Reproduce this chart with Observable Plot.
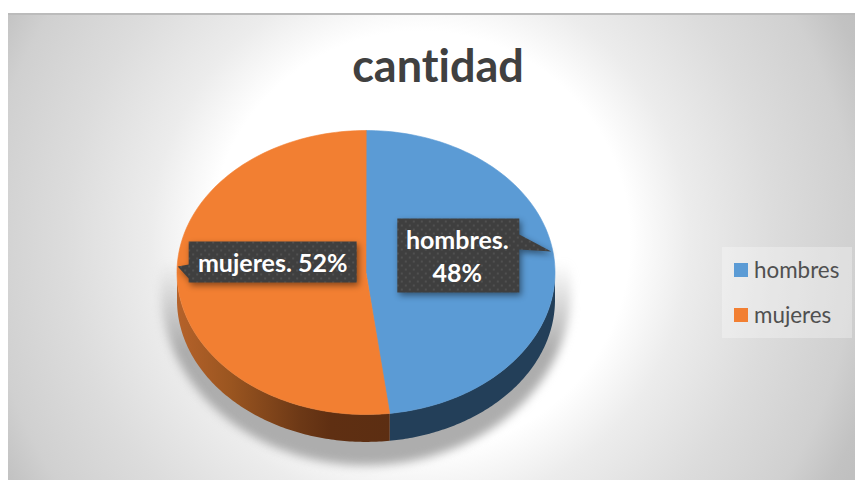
<!DOCTYPE html>
<html><head><meta charset="utf-8">
<script src="https://cdn.jsdelivr.net/npm/d3@7"></script>
<script src="https://cdn.jsdelivr.net/npm/@observablehq/plot@0.6"></script>
<style>
html,body{margin:0;padding:0;background:#fff;overflow:hidden}
#page{position:relative;width:855px;height:480px;overflow:hidden;font-family:Lato,sans-serif;color:#404040;font-variant-ligatures:none}
#frame{position:absolute;left:8px;top:13px;right:0;bottom:0;border-top:2px solid #bbb;box-sizing:border-box;
 background:radial-gradient(circle 490px at 412px 226px,#fff 0px,#fff 210px,#ececec 270px,#dcdcdc 355px,#d0d0d0 435px,#c2c2c2 475px,#c0c0c0 490px)}
#title{position:absolute;left:8px;width:860px;top:36px;text-align:center;font-weight:700;font-size:45px;line-height:58px}
#chart{position:absolute;left:0;top:0}
#legend{position:absolute;left:722px;top:247px;width:130px;height:91px;background:rgba(255,255,255,.3);color:#505050}
.item{position:absolute;left:12px;font-size:22.4px;line-height:24px;white-space:nowrap}
.item i{position:absolute;left:0;top:5px;width:14px;height:14px}
.item span{position:absolute;left:20px;top:0}
</style></head><body>
<div id="page"><div id="frame"></div><div id="title"></div><div id="chart"></div><div id="legend"></div></div>
<script>
const chartTitle = "cantidad";
const categories = ["hombres", "mujeres"];
const shares = [48, 52];
const colors = ["#5B9BD5", "#F27F32"];

// Slice angles (clockwise from 12 o'clock) from the shares
let acc = 0;
const slices = categories.map((name, i) => {
  const a0 = acc / 100 * 2 * Math.PI; acc += shares[i];
  return {name, share: shares[i], a0, a1: acc / 100 * 2 * Math.PI};
});
const depth = 0.193;   // wall height, in pie radii on the y scale
const arc = (a0, a1, dy = 0, n = 120) =>
  d3.range(n + 1).map(k => {
    const a = a0 + (a1 - a0) * k / n;
    return {x: Math.sin(a), y: Math.cos(a) - dy};
  });

const faces = slices.flatMap(s => [{x: 0, y: 0}, ...arc(s.a0, s.a1)].map(p => ({...p, name: s.name})));
const shadow = arc(0, 2 * Math.PI).map(p => ({x: p.x * 1.085, y: p.y * 1.232 - 0.127}));

// Visible wall of a slice between two angles: lower rim then upper rim reversed
const wall = (a0, a1) => [...arc(a0, a1, depth), ...arc(a0, a1, 0).reverse()];
const blueWall = wall(Math.PI / 2, slices[0].a1);
const orangeWall = wall(slices[1].a0, 1.5 * Math.PI);

const labels = slices.map(s => {
  const mid = (s.a0 + s.a1) / 2;
  return {x: 0.5 * Math.sin(mid), y: 0.5 * Math.cos(mid), name: s.name, share: s.share};
});
const labelText = d => d.name === "hombres" ? `${d.name}.\n${d.share}%` : `${d.name}. ${d.share}%`;

function defsMark() {
  const ns = "http://www.w3.org/2000/svg";
  const d = document.createElementNS(ns, "defs");
  d.innerHTML = `
  <linearGradient id="wallO" gradientUnits="userSpaceOnUse" x1="177" x2="390" y1="0" y2="0">
    <stop offset="0" stop-color="#b5622a"/><stop offset=".25" stop-color="#9a5520"/><stop offset=".58" stop-color="#6c3816"/><stop offset=".72" stop-color="#5f2f12"/><stop offset="1" stop-color="#5c2e12"/>
  </linearGradient>
  <linearGradient id="shade" gradientUnits="userSpaceOnUse" x1="0" x2="0" y1="262" y2="350">
    <stop offset="0" stop-color="#a8a8a8" stop-opacity="0"/><stop offset="1" stop-color="#a8a8a8" stop-opacity=".95"/>
  </linearGradient>
  <clipPath id="shadeClip"><rect x="0" y="0" width="855" height="453"/></clipPath>
  <pattern id="dots" width="8" height="8" patternUnits="userSpaceOnUse">
    <rect width="8" height="8" fill="#3f3f3f"/><circle cx="2" cy="2" r="1" fill="#565656"/><circle cx="6" cy="6" r="1" fill="#565656"/>
  </pattern>`;
  return d;
}

function calloutsMark(index, scales) {
  const ns = "http://www.w3.org/2000/svg";
  const g = document.createElementNS(ns, "g");
  // Box and pointer drawn relative to each label anchor, in px offsets
  const shapes = [
    "M-62.5,-49H59.5V-33L91.5,-16L59.5,-18V25H-62.5Z",
    "M-82.5,-35H85.5V6H-82.5V2L-93.5,-10L-82.5,-12Z"
  ];
  labels.forEach((d, i) => {
    const p = document.createElementNS(ns, "path");
    p.setAttribute("transform", `translate(${scales.x(d.x)},${scales.y(d.y)})`);
    p.setAttribute("d", shapes[i]);
    p.setAttribute("fill", "url(#dots)");
    p.setAttribute("style", "filter:drop-shadow(2px 3px 3px rgba(0,0,0,.45))");
    g.appendChild(p);
  });
  return g;
}

const labelStyle = {x: "x", y: "y", text: labelText, fill: "white", fontWeight: 700, fontSize: 25,
  fontFamily: "Lato, sans-serif", lineHeight: 1.32};

const chart = Plot.plot({
  width: 855, height: 480,
  margin: 0,
  style: {background: "transparent", fontVariantLigatures: "none"},
  x: {domain: [-1, 1], range: [176.5, 554.5], axis: null},
  y: {domain: [-1, 1], range: [414, 130], axis: null},
  color: {domain: categories, range: colors},
  marks: [
    defsMark,
    Plot.line(shadow, {x: "x", y: "y", curve: "linear-closed", fill: "url(#shade)", stroke: "none",
      imageFilter: "blur(5px)", clipPath: "url(#shadeClip)"}),
    Plot.line(blueWall, {x: "x", y: "y", curve: "linear-closed", fill: "#233f59", stroke: "none"}),
    Plot.line(orangeWall, {x: "x", y: "y", curve: "linear-closed", fill: "url(#wallO)", stroke: "none"}),
    Plot.line(faces, {x: "x", y: "y", z: "name", fill: "name", stroke: "name", strokeWidth: 0.6, curve: "linear-closed"}),
    calloutsMark,
    Plot.text(labels.filter(d => d.name === "hombres"), {...labelStyle, dx: -3, dy: -13}),
    Plot.text(labels.filter(d => d.name === "mujeres"), {...labelStyle, dx: 1, dy: -16})
  ]
});
document.getElementById("chart").appendChild(chart);
document.getElementById("title").textContent = chartTitle;
const legend = document.getElementById("legend");
categories.forEach((c, i) => {
  const it = document.createElement("div");
  it.className = "item";
  it.style.top = (11 + i * 45) + "px";
  it.innerHTML = `<i style="background:${colors[i]}"></i><span>${c}</span>`;
  legend.appendChild(it);
});
</script></body></html>
